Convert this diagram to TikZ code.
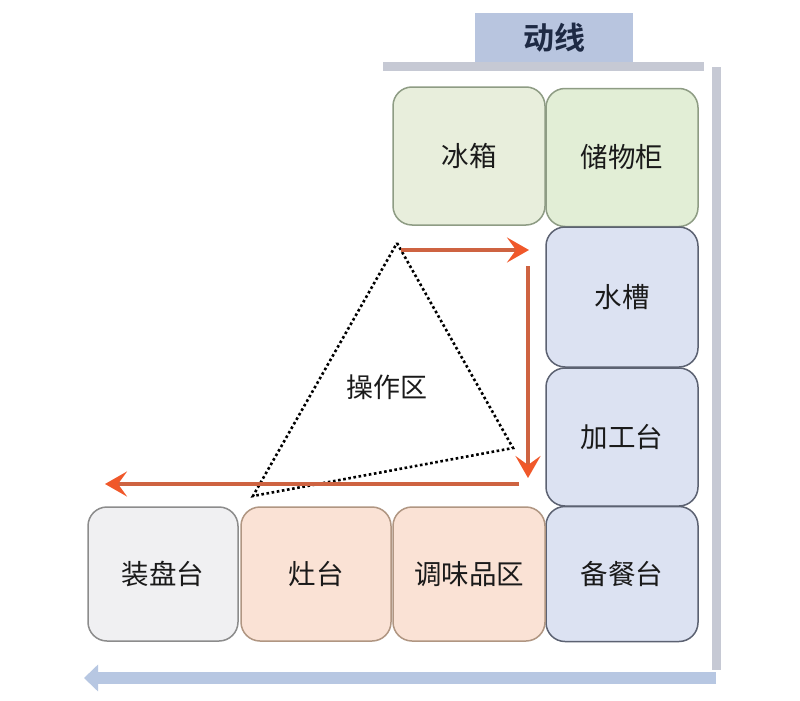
\documentclass[tikz,border=0pt]{standalone}
\usepackage{fontspec}
\setmainfont{Noto Sans CJK SC}
\newfontfamily\cjkb{Noto Sans CJK SC Bold}
\usetikzlibrary{arrows.meta}
\definecolor{greenA}{HTML}{E8EEDC}
\definecolor{greenB}{HTML}{E2EED6}
\definecolor{greenE}{HTML}{8E9C84}
\definecolor{blueF}{HTML}{DCE2F2}
\definecolor{blueE}{HTML}{5C6272}
\definecolor{grayF}{HTML}{F0F0F2}
\definecolor{grayE}{HTML}{8C8C8C}
\definecolor{peachF}{HTML}{FAE2D5}
\definecolor{peachE}{HTML}{B09682}
\definecolor{barc}{HTML}{C6C9D4}
\definecolor{labelc}{HTML}{B8C5DF}
\definecolor{labeltxt}{HTML}{1E2A44}
\definecolor{flowc}{HTML}{B7C7E2}
\definecolor{shaftc}{HTML}{CE6341}
\definecolor{headc}{HTML}{F0582A}
\definecolor{txt}{HTML}{1A1A1A}
\tikzset{
  zone/.style={draw, rounded corners=19pt, line width=1.5pt, minimum width=152pt,
    minimum height=138pt, inner sep=0pt, font=\fontsize{27.5}{27.5}\selectfont, text=txt},
  gz/.style={zone, fill=greenA, draw=greenE},
  gz2/.style={zone, fill=greenB, draw=greenE},
  bz/.style={zone, fill=blueF, draw=blueE},
  wz/.style={zone, fill=grayF, draw=grayE},
  pz/.style={zone, fill=peachF, draw=peachE},
  orangearrow/.style={draw=shaftc, line width=4.5pt,
    -{Stealth[length=22pt,width=25pt,inset=9pt,color=headc]}},
  triline/.style={line width=2.6pt, dash pattern=on 2.6pt off 2.6pt, black},
}
\begin{document}
\begin{tikzpicture}[x=1pt,y=-1pt]
\useasboundingbox (0,0) rectangle (800,701);
\fill[white] (0,0) rectangle (800,701);
% top label and bars
\node[fill=labelc, minimum width=158pt, minimum height=50pt, inner sep=0pt,
  font=\cjkb\fontsize{31}{31}\selectfont, text=labeltxt] (label) at (554,38) {动线};
\fill[barc] (383,62) rectangle (704,71);
\fill[barc] (712,67) rectangle (721,670);
% bottom flow arrow
\coordinate (flowR) at (716,678);
\coordinate (flowL) at (84,678);
\draw[flowc, line width=12pt, -{Triangle[length=14pt,width=26pt]}] (flowR) -- (flowL);
% zones
\node[gz] (ice) at (469,156) {冰箱};
\node[gz2] (store) at (622,157.5) {储物柜};
\node[bz, minimum height=140pt] (sink) at (622,297) {水槽};
\node[bz] (proc) at (622,437) {加工台};
\node[bz, minimum height=135pt] (serve) at (622,574) {备餐台};
\node[wz, minimum width=150pt, minimum height=134pt] (plate) at (163,574) {装盘台};
\node[pz, minimum width=150pt, minimum height=134pt] (stove) at (316,574) {灶台};
\node[pz, minimum height=134pt] (season) at (469,574) {调味品区};
% triangle work zone
\coordinate (tA) at (397,243);
\coordinate (tB) at (513,448);
\coordinate (tC) at (253,496);
\draw[triline] (tA) -- (tB) -- (tC) -- cycle;
\node[fill=white, inner sep=1pt, font=\fontsize{27}{27}\selectfont, text=txt] (work) at (387,387) {操作区};
% orange arrows
\coordinate (a1s) at (401,250);
\coordinate (a1e) at (529,250);
\coordinate (a2s) at (528,266);
\coordinate (a2e) at (528,478);
\coordinate (a3s) at (519,484);
\coordinate (a3e) at (105,484);
\draw[orangearrow] (a1s) -- (a1e);
\draw[orangearrow] (a2s) -- (a2e);
\draw[orangearrow] (a3s) -- (a3e);
\end{tikzpicture}
\end{document}
